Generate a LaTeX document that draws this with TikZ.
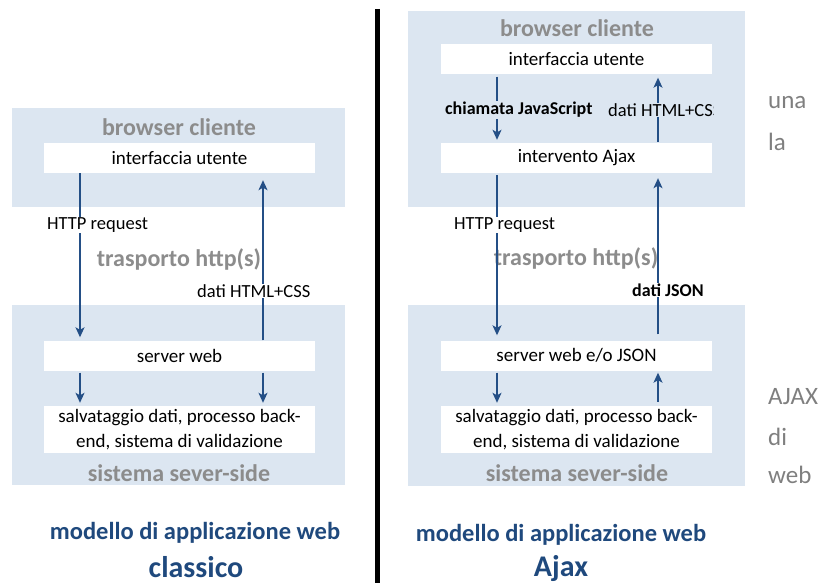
\documentclass[tikz,border=0pt]{standalone}
\usepackage{fontspec}
\setmainfont{Carlito}
\usetikzlibrary{arrows.meta}
\definecolor{panelblue}{HTML}{DCE6F1}
\definecolor{arrowblue}{HTML}{244F86}
\definecolor{titleblue}{HTML}{1F497D}
\definecolor{capgray}{HTML}{8C8C8C}
\definecolor{sidegray}{HTML}{7F7F7F}
\tikzset{
	panel/.style={fill=panelblue},
	box/.style={fill=white, minimum width=271pt, minimum height=30pt, inner sep=0pt, font=\fontsize{19}{25}\selectfont},
	tallbox/.style={box, minimum height=47pt, align=center},
	caption/.style={text=capgray, font=\bfseries\fontsize{24}{28}\selectfont},
	flow/.style={draw=arrowblue, line width=1.4pt, -{Stealth[length=10pt, width=9pt, inset=2.5pt]}},
	tag/.style={anchor=west, inner sep=1pt, font=\fontsize{18.5}{22}\selectfont},
	boldtag/.style={tag, font=\bfseries\fontsize{18}{22}\selectfont},
	model/.style={text=titleblue, font=\bfseries\fontsize{24.5}{28}\selectfont},
	modelname/.style={anchor=base, inner sep=0pt, text depth=0pt, text=titleblue, font=\bfseries\fontsize{30}{34}\selectfont},
	side/.style={anchor=west, inner sep=0pt, text=sidegray, font=\fontsize{25}{28}\selectfont}
}

\begin{document}
\begin{tikzpicture}[x=1pt, y=-1pt]
	\useasboundingbox (0,0) rectangle (830,583);
	
	\fill[panel] (12,108) rectangle (345,207);
	\fill[panel] (12,305) rectangle (345,485);
	\node[caption] (lbrowser) at (179,127) {browser cliente};
	\node[caption] (lhttp) at (179,259) {trasporto http(s)};
	\node[caption] (lserverside) at (179,473) {sistema sever-side};
	\node[box] (lui) at (179.5,158) {interfaccia utente};
	\node[box] (lsrv) at (179.5,355.5) {server web};
	\node[tallbox] (ldata) at (179.5,429.5) {salvataggio dati, processo back-\\end, sistema di validazione};
	\coordinate (la) at (80,0);
	\coordinate (lb) at (263,0);
	\draw[flow, shorten >=3pt] (lui.south -| la) -- (lsrv.north -| la);
	\draw[flow, shorten >=7pt] (lsrv.north -| lb) -- (lui.south -| lb);
	\draw[flow, shorten <=2pt, shorten >=3pt] (lsrv.south -| la) -- (ldata.north -| la);
	\draw[flow, shorten <=2pt, shorten >=3pt] (lsrv.south -| lb) -- (ldata.north -| lb);
	\node[tag, fill=white] (lreq) at (46,225) {HTTP request};
	\node[tag, fill=white] (lhtml) at (196,291) {dati HTML+CSS};
	\node[model] (lmodel) at (195,533) {modello di applicazione web};
	\node[modelname] (lclassic) at (196,577) {classico};
	
	\draw[line width=5pt] (377.5,9) -- (377.5,583);
	
	\fill[panel] (408,11) rectangle (745,207);
	\fill[panel] (408,305) rectangle (745,486);
	\node[caption] (rbrowser) at (577,28) {browser cliente};
	\node[caption] (rhttp) at (576,258) {trasporto http(s)};
	\node[caption] (rserverside) at (577,473) {sistema sever-side};
	\node[box] (rui) at (576.5,59.5) {interfaccia utente};
	\node[box] (rajax) at (576.5,158) {intervento Ajax};
	\node[box] (rsrv) at (576.5,355.5) {server web e/o JSON};
	\node[tallbox] (rdata) at (576.5,429.5) {salvataggio dati, processo back-\\end, sistema di validazione};
	\coordinate (ra) at (497,0);
	\coordinate (rb) at (658,0);
	\draw[flow, shorten <=2pt, shorten >=3pt] (rui.south -| ra) -- (rajax.north -| ra);
	\draw[flow, shorten <=1pt, shorten >=3pt] (rajax.north -| rb) -- (rui.south -| rb);
	\draw[flow, shorten <=2pt, shorten >=5pt] (rajax.south -| ra) -- (rsrv.north -| ra);
	\draw[flow, shorten <=6pt, shorten >=5pt] (rsrv.north -| rb) -- (rajax.south -| rb);
	\draw[flow, shorten <=2pt, shorten >=3pt] (rsrv.south -| ra) -- (rdata.north -| ra);
	\draw[flow, shorten <=4pt, shorten >=2pt] (rdata.north -| rb) -- (rsrv.south -| rb);
	\node[boldtag, fill=panelblue] (rcall) at (444,110) {chiamata JavaScript};
	\begin{scope}
		\clip (600,95) rectangle (713,125);
		\node[tag, fill=panelblue] (rhtml) at (607,110) {dati HTML+CSS};
	\end{scope}
	\node[tag, fill=white] (rreq) at (453,225) {HTTP request};
	\node[boldtag, fill=white] (rjson) at (631,290) {dati JSON};
	\node[model] (rmodel) at (561,535) {modello di applicazione web};
	\node[modelname] (rajaxname) at (561,576) {Ajax};
	
	\node[side] (suna) at (768,103) {una};
	\node[side] (sla) at (768,142) {la};
	\node[side] (sajax) at (768,397) {AJAX};
	\node[side] (sdi) at (768,437) {di};
	\node[side] (sweb) at (768,475) {web};
\end{tikzpicture}
\end{document}
